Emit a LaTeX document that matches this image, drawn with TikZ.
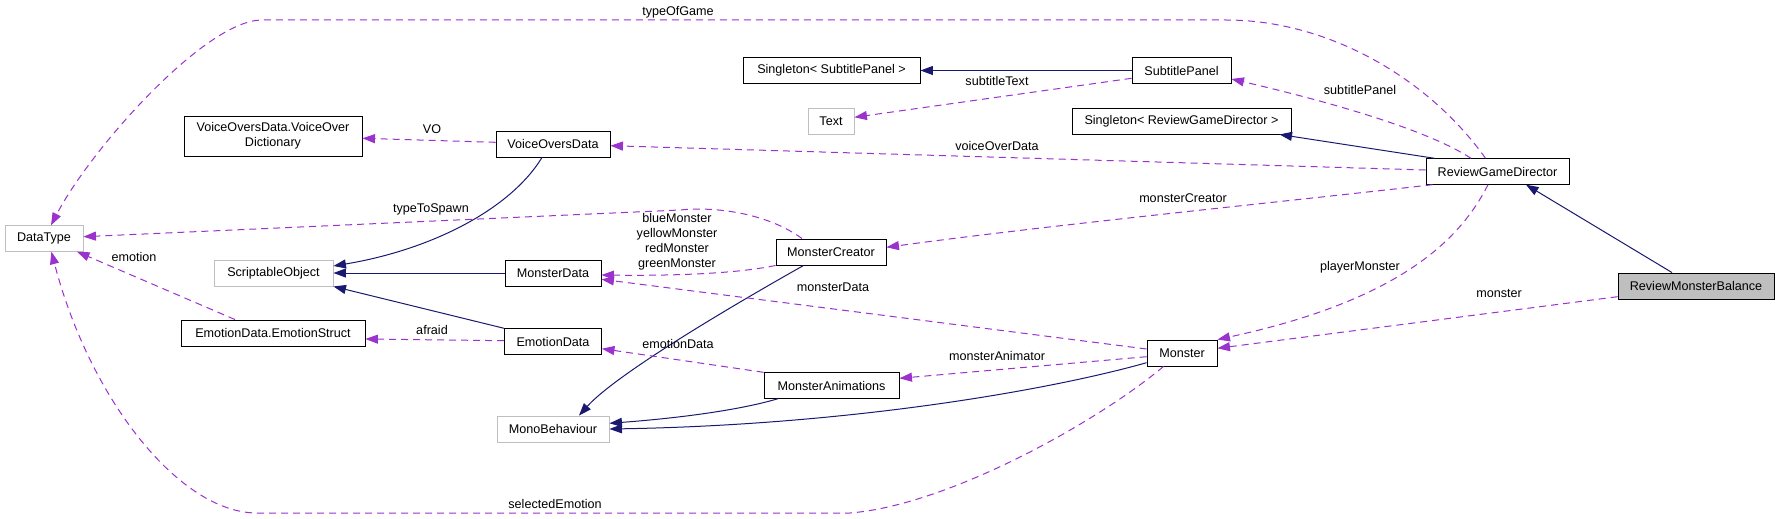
\documentclass[tikz,border=0pt]{standalone}
\usepackage{fontspec}
\setmainfont{Liberation Sans}
\usetikzlibrary{arrows.meta}
\definecolor{usepurple}{HTML}{9A32CD}
\definecolor{inhblue}{HTML}{191970}
\definecolor{extgray}{HTML}{BFBFBF}
\newcommand\dgfont{\fontsize{12.6}{15}\selectfont}
\tikzset{
  cls/.style={draw=black, line width=0.9pt, fill=white, font=\dgfont, inner sep=0pt, align=center},
  ext/.style={cls, draw=extgray},
  focus/.style={cls, fill=extgray},
  inh/.style={draw=inhblue, line width=1pt, -{Triangle[length=12.5pt,width=9pt]}},
  use/.style={draw=usepurple, line width=1pt, dash pattern=on 7pt off 5pt, -{Triangle[length=12.5pt,width=9pt]}},
  lbl/.style={font=\dgfont, inner sep=0pt, text height=9pt, text depth=2.6pt, align=center}
}
\begin{document}
\begin{tikzpicture}[x=1pt,y=-1pt]
\useasboundingbox (0,0) rectangle (1780,519);
\fill[white] (0,0) rectangle (1780,519);
% nodes
\node[cls, minimum width=178pt, minimum height=40pt] (VODict) at (273,136) {VoiceOversData.VoiceOver\\Dictionary};
\node[cls, minimum width=114pt, minimum height=26pt] (VOD) at (553,144) {VoiceOversData};
\node[cls, minimum width=177pt, minimum height=25.5pt] (SingSP) at (831.5,70.5) {Singleton< SubtitlePanel >};
\node[cls, minimum width=99pt, minimum height=25.5pt] (SP) at (1181.5,70.5) {SubtitlePanel};
\node[ext, minimum width=46pt, minimum height=26pt] (Text) at (831,121) {Text};
\node[cls, minimum width=219pt, minimum height=26pt] (SingRGD) at (1181.5,121) {Singleton< ReviewGameDirector >};
\node[cls, minimum width=143pt, minimum height=25.5pt] (RGD) at (1497.5,171.5) {ReviewGameDirector};
\node[ext, minimum width=78pt, minimum height=25.5pt] (DataType) at (44,238.5) {DataType};
\node[cls, minimum width=110pt, minimum height=26pt] (MC) at (831,252) {MonsterCreator};
\node[ext, minimum width=119pt, minimum height=26pt] (SO) at (273.5,273) {ScriptableObject};
\node[cls, minimum width=96pt, minimum height=26pt] (MD) at (553,273) {MonsterData};
\node[focus, minimum width=156pt, minimum height=26pt] (RMB) at (1696,286) {ReviewMonsterBalance};
\node[cls, minimum width=184pt, minimum height=26pt] (ES) at (273,333) {EmotionData.EmotionStruct};
\node[cls, minimum width=97pt, minimum height=25.5pt] (ED) at (553,341.5) {EmotionData};
\node[cls, minimum width=70pt, minimum height=26pt] (Monster) at (1182,353) {Monster};
\node[cls, minimum width=135pt, minimum height=25.5pt] (MA) at (831.5,385.5) {MonsterAnimations};
\node[ext, minimum width=112pt, minimum height=26pt] (MB) at (553,429) {MonoBehaviour};
% inheritance edges
\draw[inh] (SP.west) -- (SingSP.east);
\draw[inh] ([xshift=-63pt]RGD.north) -- ([xshift=98pt]SingRGD.south);
\draw[inh] ([xshift=-24pt]RMB.north) -- ([xshift=28.5pt]RGD.south);
\draw[inh] ([xshift=-11pt]VOD.south) .. controls (510,210) and (430,250) .. ([yshift=7pt]SO.east);
\draw[inh] (MD.west) -- (SO.east);
\draw[inh] (ED.north west) -- (SO.south east);
\draw[inh] ([xshift=-27.4pt]MC.south) .. controls (760,290) and (620,370) .. ([xshift=26pt]MB.north);
\draw[inh] ([xshift=-53.5pt]MA.south) .. controls (740,410) and (680,418) .. ([yshift=5.7pt]MB.east);
\draw[inh] ([yshift=-9.7pt]Monster.west) .. controls (1050,390) and (850,425) .. (MB.east);
% usage edges
\draw[use] ([xshift=-12pt]RGD.north) .. controls (1430,80) and (1330,20) .. (1226,20) -- (262,20) .. controls (205,20) and (90,150) .. ([xshift=7pt]DataType.north);
\draw[use] ([yshift=1.7pt]VOD.west) -- ([yshift=-2.3pt]VODict.east);
\draw[use] ([yshift=1.5pt]RGD.west) -- ([yshift=-1.7pt]VOD.east);
\draw[use] ([yshift=-7.8pt]SP.west) -- ([yshift=3.7pt]Text.east);
\draw[use] ([xshift=-26.5pt]RGD.north) .. controls (1420,125) and (1300,95) .. ([yshift=-8.5pt]SP.east);
\draw[use] ([xshift=-65pt]RGD.south) .. controls (1300,200) and (1050,225) .. ([yshift=4.7pt]MC.east);
\draw[use] ([xshift=-9.5pt]RGD.south) .. controls (1460,240) and (1400,300) .. (Monster.north east);
\draw[use] ([yshift=-10.7pt]RMB.west) -- ([yshift=4.7pt]Monster.east);
\draw[use] ([xshift=-29pt]MC.north) .. controls (770,215) and (720,206) .. (680,210) -- ([yshift=1.8pt]DataType.east);
\draw[use] (MC.south west) .. controls (740,273) and (680,276) .. ([yshift=-2pt]MD.east);
\draw[use] ([yshift=4pt]Monster.west) -- ([yshift=-6.3pt]MD.east);
\draw[use] ([yshift=-3.7pt]Monster.west) -- ([yshift=7.2pt]MA.east);
\draw[use] (MA.north west) -- ([yshift=-7.2pt]ED.east);
\draw[use] ([yshift=0.8pt]ED.west) -- ([yshift=-6pt]ES.east);
\draw[use] ([xshift=-38pt]ES.north) -- ([xshift=33pt]DataType.south);
\draw[use] ([xshift=-18.5pt]Monster.south) .. controls (1100,420) and (950,505) .. (850,513) -- (257,513) .. controls (180,513) and (90,400) .. ([xshift=7.4pt]DataType.south);
% labels
\node[lbl] (lTOG) at (678,12) {typeOfGame};
\node[lbl] (lVO) at (432,130) {VO};
\node[lbl] (lST) at (997,82) {subtitleText};
\node[lbl] (lSP) at (1360,91) {subtitlePanel};
\node[lbl] (lVOD) at (997,147) {voiceOverData};
\node[lbl] (lMC) at (1183,199) {monsterCreator};
\node[lbl] (lTTS) at (431,209) {typeToSpawn};
\node[font=\dgfont, inner sep=0pt, align=center] (lCol) at (677,241.5) {blueMonster\\yellowMonster\\redMonster\\greenMonster};
\node[lbl] (lMD) at (833,288) {monsterData};
\node[lbl] (lPM) at (1360,267) {playerMonster};
\node[lbl] (lM) at (1499,294) {monster};
\node[lbl] (lEm) at (134,258) {emotion};
\node[lbl] (lAf) at (432,331) {afraid};
\node[lbl] (lED) at (678,345) {emotionData};
\node[lbl] (lMA) at (997,357) {monsterAnimator};
\node[lbl] (lSE) at (555,505) {selectedEmotion};
\end{tikzpicture}
\end{document}
